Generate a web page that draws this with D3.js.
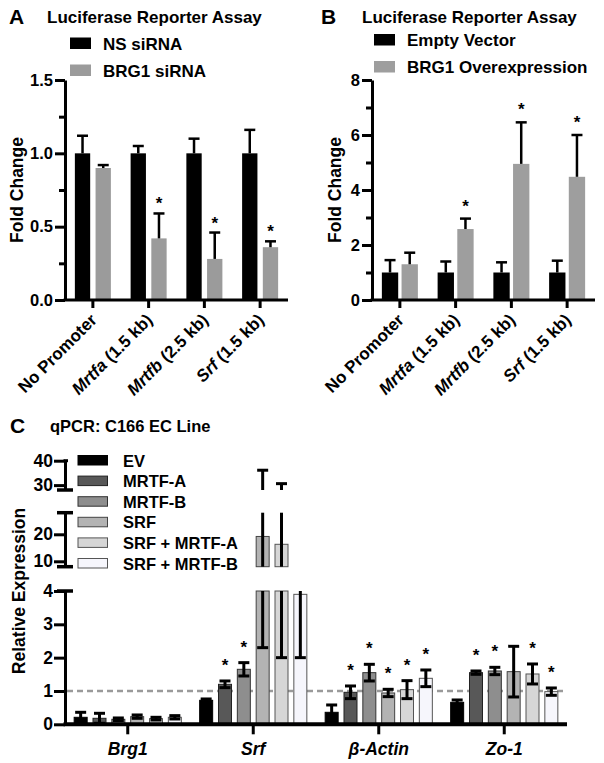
<!DOCTYPE html>
<html><head><meta charset="utf-8">
<script src="https://cdn.jsdelivr.net/npm/d3@7"></script>
<style>
body{margin:0;background:#fff;}
svg text{font-family:'Liberation Sans',Arial,Helvetica,sans-serif;font-weight:bold;fill:#000;}
</style></head><body>
<svg id="chart" width="604" height="763"></svg>
<script>
// ---------------- Data ----------------
const promoters = ["No Promoter", "Mrtfa (1.5 kb)", "Mrtfb (2.5 kb)", "Srf (1.5 kb)"];

const seriesA = ["NS siRNA", "BRG1 siRNA"];
const nsSiRNA = [1, 1, 1, 1];
const nsSiRNAErr = [0.12, 0.05, 0.10, 0.16];
const brg1SiRNA = [0.90, 0.42, 0.28, 0.36];
const brg1SiRNAErr = [0.02, 0.17, 0.18, 0.04];
const brg1SiRNASig = [false, true, true, true];
const ticksA = [0, 0.5, 1.0, 1.5];
const minorTicksA = [0.25, 0.75, 1.25];

const seriesB = ["Empty Vector", "BRG1 Overexpression"];
const emptyVector = [1, 1, 1, 1];
const emptyVectorErr = [0.45, 0.40, 0.37, 0.43];
const brg1OE = [1.30, 2.58, 4.95, 4.48];
const brg1OEErr = [0.42, 0.38, 1.51, 1.52];
const brg1OESig = [false, true, true, true];
const ticksB = [0, 2, 4, 6, 8];
const minorTicksB = [1, 3, 5, 7];

const genes = ["Brg1", "Srf", "β-Actin", "Zo-1"];
const seriesC = ["EV", "MRTF-A", "MRTF-B", "SRF", "SRF + MRTF-A", "SRF + MRTF-B"];
const evC        = [0.21, 0.72, 0.36, 0.66];
const evCSd      = [0.15, 0.04, 0.22, 0.07];
const mrtfaC     = [0.18, 1.20, 0.96, 1.55];
const mrtfaCSd   = [0.15, 0.10, 0.19, 0.05];
const mrtfbC     = [0.15, 1.65, 1.55, 1.60];
const mrtfbCSd   = [0.04, 0.20, 0.25, 0.11];
const srfC       = [0.23, 19.2, 0.94, 1.58];
const srfCSd     = [0.05, 16.9, 0.11, 0.76];
const srfMrtfaC  = [0.17, 16.3, 1.04, 1.51];
const srfMrtfaCSd= [0.04, 14.3, 0.27, 0.30];
const srfMrtfbC  = [0.21, 3.9, 1.38, 0.98];
const srfMrtfbCSd= [0.05, 1.9, 0.25, 0.11];
const sigC = [
  [false, false, false, false],
  [false, true, true, true],
  [false, true, true, true],
  [false, false, true, false],
  [false, false, true, true],
  [false, false, true, true]
];
const ticksCLow = [0, 1, 2, 3, 4];
const ticksCMid = [10, 20];
const ticksCTop = [30, 40];
const referenceLine = 1;

// ---------------- Drawing ----------------
const svg = d3.select("#chart");
const FONT = "'Liberation Sans',Arial,Helvetica,sans-serif";

function styleAxis(g, fs) {
  g.attr("font-family", FONT).attr("font-size", fs).attr("font-weight", "bold");
  g.selectAll("path.domain").attr("stroke", "#000").attr("stroke-width", 3);
  g.selectAll(".tick line").attr("stroke", "#000").attr("stroke-width", 3);
  g.selectAll(".tick text").attr("fill", "#000");
}

function richLabel(textSel) {
  textSel.each(function(d) {
    const t = d3.select(this);
    const m = /^(\S+)( \(.*\))$/.exec(d);
    t.text(null);
    if (m) {
      t.append("tspan").attr("font-style", "italic").text(m[1]);
      t.append("tspan").text(m[2]);
    } else {
      t.text(d);
    }
  });
}

function panelAB(opt) {
  const g = svg.append("g");
  const x0 = d3.scaleBand().domain(promoters).range([opt.xStart, opt.xEnd]).paddingInner(opt.pad).paddingOuter(opt.pad / 2);
  const x1 = d3.scaleBand().domain(opt.series).range([0, x0.bandwidth()]).paddingInner(opt.innerPad);
  const y = d3.scaleLinear().domain([0, opt.max]).range([300, 80]);

  // title
  g.append("text").attr("x", opt.letterX).attr("y", 24).attr("font-size", 21).text(opt.letter);
  g.append("text").attr("x", opt.titleX).attr("y", 23).attr("font-size", 17).text("Luciferase Reporter Assay");

  // legend
  opt.series.forEach((s, i) => {
    g.append("rect").attr("x", opt.legX).attr("y", opt.legY[i]).attr("width", 21).attr("height", 11.5).attr("fill", opt.colors[i]);
    g.append("text").attr("x", opt.legX + 33).attr("y", opt.legY[i] + 12).attr("font-size", 17).text(s);
  });

  // bars
  promoters.forEach((p, i) => {
    opt.values.forEach((vals, k) => {
      const v = vals[i], e = opt.errs[k][i];
      const bx = x0(p) + x1(opt.series[k]);
      const bw = x1.bandwidth();
      g.append("rect").attr("x", bx).attr("y", y(v)).attr("width", bw).attr("height", y(0) - y(v)).attr("fill", opt.colors[k]);
      const cx = bx + bw / 2;
      g.append("line").attr("x1", cx).attr("x2", cx).attr("y1", y(v)).attr("y2", y(v + e)).attr("stroke", "#000").attr("stroke-width", 2.5);
      g.append("line").attr("x1", cx - 5.5).attr("x2", cx + 5.5).attr("y1", y(v + e)).attr("y2", y(v + e)).attr("stroke", "#000").attr("stroke-width", 2.5);
      if (opt.sigs[k] && opt.sigs[k][i]) {
        g.append("text").attr("x", cx).attr("y", y(v + e) - opt.starGap + 9).attr("text-anchor", "middle").attr("font-size", 17).attr("font-weight", "normal").text("*");
      }
    });
  });

  // y axis
  const ya = g.append("g").attr("transform", `translate(${opt.xStart},0)`)
    .call(d3.axisLeft(y).tickValues(opt.ticks).tickSize(10).tickSizeOuter(0).tickPadding(2).tickFormat(opt.fmt));
  styleAxis(ya, 16.5);
  const ym = g.append("g").attr("transform", `translate(${opt.xStart},0)`)
    .call(d3.axisLeft(y).tickValues(opt.minor).tickSize(6).tickFormat(""));
  styleAxis(ym, 16);
  ym.select("path.domain").remove();

  // x axis
  const xa = g.append("g").attr("transform", `translate(0,${y(0)})`)
    .call(d3.axisBottom(x0).tickSize(8).tickSizeOuter(0));
  styleAxis(xa, 17);
  xa.select("path.domain").attr("d", `M${opt.xStart - 1.5},0H${opt.xEnd}`);
  xa.selectAll(".tick text")
    .attr("text-anchor", "end")
    .attr("y", 0)
    .attr("dy", 0)
    .attr("transform", "translate(5,21) rotate(-45)")
    .call(richLabel);

  // y label
  g.append("text").attr("transform", `translate(${opt.yLabX},190) rotate(-90)`).attr("text-anchor", "middle").attr("font-size", 17.5).text("Fold Change");
}

panelAB({
  letter: "A", letterX: 9, titleX: 47,
  xStart: 65, xEnd: 288, pad: 0.354, innerPad: 0.26,
  max: 1.5, ticks: ticksA, minor: minorTicksA, fmt: d3.format(".1f"),
  series: seriesA, colors: ["#000", "#9b9b9b"],
  values: [nsSiRNA, brg1SiRNA], errs: [nsSiRNAErr, brg1SiRNAErr], sigs: [null, brg1SiRNASig],
  legX: 70, legY: [37.5, 64.5], starGap: 13, yLabX: 23
});
panelAB({
  letter: "B", letterX: 321, titleX: 362,
  xStart: 372, xEnd: 595, pad: 0.354, innerPad: 0.17,
  max: 8, ticks: ticksB, minor: minorTicksB, fmt: d3.format("d"),
  series: seriesB, colors: ["#000", "#9e9e9e"],
  values: [emptyVector, brg1OE], errs: [emptyVectorErr, brg1OEErr], sigs: [null, brg1OESig],
  legX: 374, legY: [34, 61], starGap: 16, yLabX: 341
});

// ---------------- Panel C ----------------
(function() {
  const g = svg.append("g");
  const xStart = 65, xEnd = 567;
  const x0 = d3.scaleBand().domain(genes).range([xStart, xEnd]).paddingInner(0.146).paddingOuter(0.073);
  const x1 = d3.scaleBand().domain(seriesC).range([0, x0.bandwidth()]).paddingInner(0.31);
  const segs = [
    { y: d3.scaleLinear().domain([0, 4]).range([724.3, 591]), ticks: ticksCLow, capLo: false, capHi: true },
    { y: d3.scaleLinear().domain([8, 28]).range([566.7, 512.7]), ticks: ticksCMid, capLo: true, capHi: true },
    { y: d3.scaleLinear().domain([28, 40]).range([490, 460.7]), ticks: ticksCTop, capLo: true, capHi: false }
  ];
  const colors = ["#000000", "#585858", "#8e8e8e", "#b3b3b3", "#d6d6d6", "#f6f6fc"];
  const strokes = ["#000", "#222", "#333", "#444", "#555", "#555"];
  const vals = [evC, mrtfaC, mrtfbC, srfC, srfMrtfaC, srfMrtfbC];
  const sds = [evCSd, mrtfaCSd, mrtfbCSd, srfCSd, srfMrtfaCSd, srfMrtfbCSd];

  // title
  g.append("text").attr("x", 10).attr("y", 433).attr("font-size", 21).text("C");
  g.append("text").attr("x", 50).attr("y", 432).attr("font-size", 16.5).text("qPCR: C166 EC Line");

  // legend
  seriesC.forEach((s, i) => {
    const yy = 455.5 + i * 20.6;
    g.append("rect").attr("x", 78).attr("y", yy).attr("width", 29.5).attr("height", 9.5).attr("fill", colors[i]).attr("stroke", strokes[i]).attr("stroke-width", 1);
    g.append("text").attr("x", 123).attr("y", yy + 11).attr("font-size", 16.5).text(s);
  });

  // reference line
  const yLow = segs[0].y;
  g.append("line").attr("x1", xStart + 2).attr("x2", xEnd).attr("y1", yLow(referenceLine)).attr("y2", yLow(referenceLine))
    .attr("stroke", "#9a9a9a").attr("stroke-width", 2.5).attr("stroke-dasharray", "6,4");

  // bars per segment
  genes.forEach((gene, gi) => {
    seriesC.forEach((s, si) => {
      const v = vals[si][gi], sd = sds[si][gi];
      const bx = x0(gene) + x1(s), bw = x1.bandwidth(), cx = bx + bw / 2;
      const lo = v - sd, hi = v + sd;
      segs.forEach(seg => {
        const [d0, d1] = seg.y.domain();
        if (v > d0) {
          const top = Math.min(v, d1);
          g.append("rect").attr("x", bx).attr("y", seg.y(top)).attr("width", bw).attr("height", seg.y(d0) - seg.y(top))
            .attr("fill", colors[si]).attr("stroke", strokes[si]).attr("stroke-width", 1);
        }
      });
      segs.forEach(seg => {
        const [d0, d1] = seg.y.domain();
        const a = Math.max(lo, d0), b = Math.min(hi, d1);
        if (b > a) {
          g.append("line").attr("x1", cx).attr("x2", cx).attr("y1", seg.y(a)).attr("y2", seg.y(b)).attr("stroke", "#000").attr("stroke-width", 3);
        }
        [lo, hi].forEach(e => {
          if (e >= d0 && e <= d1) {
            g.append("line").attr("x1", cx - 5.5).attr("x2", cx + 5.5).attr("y1", seg.y(e)).attr("y2", seg.y(e)).attr("stroke", "#000").attr("stroke-width", 3);
          }
        });
      });
      if (sigC[si][gi]) {
        g.append("text").attr("x", cx).attr("y", yLow(hi) - 19 + 9).attr("text-anchor", "middle").attr("font-size", 17).attr("font-weight", "normal").text("*");
      }
    });
  });

  // y axis segments
  segs.forEach(seg => {
    const ax = g.append("g").attr("transform", `translate(${xStart},0)`)
      .call(d3.axisLeft(seg.y).tickValues(seg.ticks).tickSize(11).tickSizeOuter(0).tickPadding(1).tickFormat(d3.format("d")));
    styleAxis(ax, 17.5);
    const [d0, d1] = seg.y.domain();
    if (seg.capLo) g.append("line").attr("x1", xStart - 8).attr("x2", xStart + 8).attr("y1", seg.y(d0)).attr("y2", seg.y(d0)).attr("stroke", "#000").attr("stroke-width", 3.5);
    if (seg.capHi) g.append("line").attr("x1", xStart - 8).attr("x2", xStart + 8).attr("y1", seg.y(d1)).attr("y2", seg.y(d1)).attr("stroke", "#000").attr("stroke-width", 3.5);
    if (!seg.capHi) g.append("line").attr("x1", xStart - 1.5).attr("x2", xStart + 3).attr("y1", seg.y(d1)).attr("y2", seg.y(d1)).attr("stroke", "#000").attr("stroke-width", 3);
  });

  // x axis
  const xa = g.append("g").attr("transform", `translate(0,${yLow(0)})`)
    .call(d3.axisBottom(x0).tickSize(10).tickSizeOuter(0).tickPadding(8));
  styleAxis(xa, 17.5);
  xa.select("path.domain").attr("stroke-width", 4).attr("d", `M${xStart - 1.5},0H${xEnd}`);
  xa.selectAll(".tick text").attr("font-style", "italic");

  g.append("text").attr("transform", "translate(25,591) rotate(-90)").attr("text-anchor", "middle").attr("font-size", 17.5).text("Relative Expression");
})();
</script>
</body></html>
